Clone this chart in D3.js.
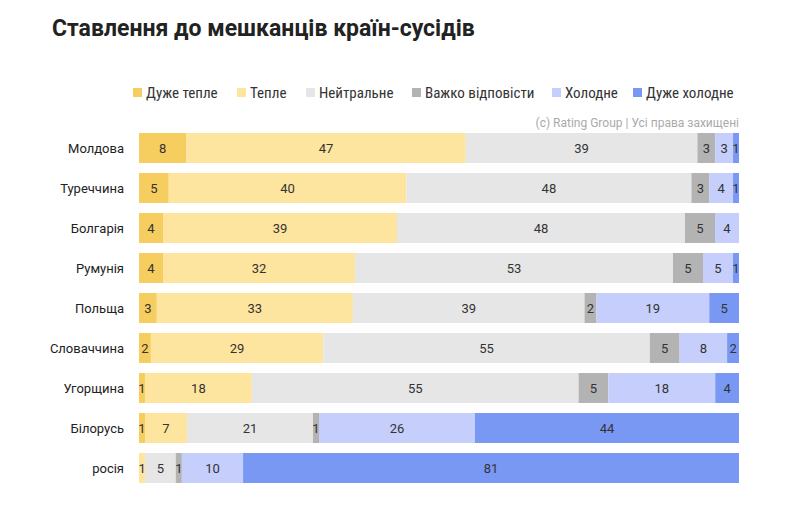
<!DOCTYPE html>
<html><head><meta charset="utf-8">
<script src="https://cdn.jsdelivr.net/npm/d3@7"></script>
<style>body{margin:0;background:#fff;font-family:Roboto,sans-serif}</style>
</head><body><svg id="graph" width="800" height="512"></svg>
<script>
const countries = ["Молдова","Туреччина","Болгарія","Румунія","Польща","Словаччина","Угорщина","Білорусь","росія"];
const categories = ["Дуже тепле","Тепле","Нейтральне","Важко відповісти","Холодне","Дуже холодне"];
const veryWarm = [8,5,4,4,3,2,1,1,0];
const warm     = [47,40,39,32,33,29,18,7,1];
const neutral  = [39,48,48,53,39,55,55,21,5];
const hard     = [3,3,5,5,2,5,5,1,1];
const cold     = [3,4,4,5,19,8,18,26,10];
const veryCold = [1,1,0,1,5,2,4,44,81];
const colors = ["#f6cd5f","#fde59f","#e6e6e6","#b3b3b3","#c6cefb","#7898f4"];

const series = [veryWarm,warm,neutral,hard,cold,veryCold];
const svg = d3.select("#graph");

svg.append("text").attr("x",52).attr("y",36).attr("font-size",23).attr("font-weight","bold")
  .attr("fill","#222").text("Ставлення до мешканців країн-сусідів");

// legenda
const legX = [133,237,306,412,552,633];
categories.forEach((name,i)=>{
  svg.append("rect").attr("x",legX[i]).attr("y",88).attr("width",9).attr("height",9).attr("fill",colors[i]);
  svg.append("text").attr("x",legX[i]+13).attr("y",98).attr("font-size",15).attr("fill","#333")
    .style("font-stretch","condensed").text(name);
});
svg.append("text").attr("x",739).attr("y",127).attr("text-anchor","end").attr("font-size",12)
  .attr("fill","#aaa").text("(c) Rating Group | Усі права захищені");

const x = d3.scaleLinear().domain([0,1]).range([139,739]);
const y = d3.scaleBand().domain(countries).range([128,488]).paddingInner(0.25).paddingOuter(0.125);

countries.forEach((c,i)=>{
  const vals = series.map(s=>s[i]);
  const tot = d3.sum(vals);
  let acc = 0;
  vals.forEach((v,k)=>{
    const x0 = x(acc/tot), x1 = x((acc+v)/tot);
    acc += v;
    if(!v) return;
    svg.append("rect").attr("x",x0).attr("y",y(c)).attr("width",x1-x0).attr("height",y.bandwidth()).attr("fill",colors[k]);
    svg.append("text").attr("x",(x0+x1)/2).attr("y",y(c)+y.bandwidth()/2+4.5).attr("text-anchor","middle")
      .attr("font-size",13).attr("fill","#333").text(v);
  });
  svg.append("text").attr("x",124).attr("y",y(c)+y.bandwidth()/2+4.5).attr("text-anchor","end")
    .attr("font-size",13).attr("fill","#222").text(c);
});
</script></body></html>
